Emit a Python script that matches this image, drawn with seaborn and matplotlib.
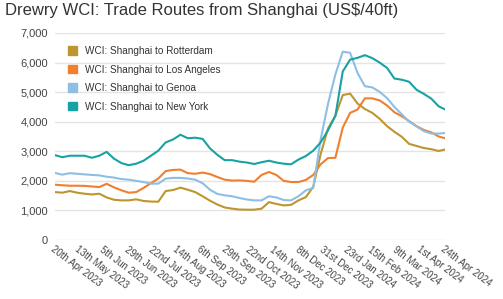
import matplotlib
matplotlib.use("Agg")
import matplotlib.pyplot as plt
from matplotlib.patches import Patch
import seaborn as sns
import pandas as pd
import numpy as np

# ---- data (weekly, US$/40ft) ----
dates = pd.date_range("2023-04-20", periods=54, freq="7D")

rotterdam = [1620, 1600, 1655, 1600, 1565, 1540, 1565, 1440, 1360, 1340,
             1340, 1375, 1320, 1300, 1295, 1655, 1690, 1770, 1700, 1620,
             1480, 1330, 1200, 1100, 1060, 1030, 1025, 1025, 1060, 1280,
             1220, 1170, 1190, 1340, 1450, 1800, 2900, 3770, 4200, 4900,
             4950, 4615, 4430, 4300, 4100, 3850, 3660, 3490, 3250, 3180,
             3110, 3070, 3010, 3070]

los_angeles = [1870, 1850, 1835, 1835, 1830, 1810, 1790, 1900, 1780, 1680,
               1600, 1620, 1760, 1920, 2080, 2330, 2370, 2380, 2260, 2240,
               2280, 2230, 2130, 2040, 2010, 2015, 2000, 1970, 2200, 2300,
               2200, 2000, 1960, 1960, 2030, 2200, 2560, 2770, 2780, 3800,
               4300, 4410, 4790, 4790, 4720, 4550, 4320, 4185, 4020, 3850,
               3720, 3640, 3500, 3430]

genoa = [2265, 2210, 2260, 2240, 2220, 2200, 2185, 2140, 2110, 2060,
         2040, 2000, 1960, 1905, 1905, 2075, 2100, 2100, 2080, 2040,
         1920, 1700, 1560, 1510, 1480, 1420, 1370, 1340, 1340, 1480,
         1440, 1350, 1340, 1480, 1680, 1760, 3400, 4600, 5600, 6370,
         6330, 5650, 5200, 5160, 5010, 4800, 4500, 4250, 4000, 3840,
         3680, 3600, 3600, 3620]

new_york = [2870, 2800, 2850, 2850, 2850, 2780, 2850, 2980, 2750, 2600,
            2530, 2580, 2680, 2850, 3020, 3300, 3400, 3560, 3440, 3460,
            3420, 3100, 2880, 2700, 2700, 2650, 2620, 2570, 2630, 2680,
            2620, 2580, 2560, 2720, 2840, 3020, 3300, 3710, 4200, 5700,
            6100, 6160, 6250, 6150, 6000, 5820, 5460, 5420, 5350, 5080,
            4940, 4780, 4520, 4400]

routes = ["WCI: Shanghai to Rotterdam", "WCI: Shanghai to Los Angeles",
          "WCI: Shanghai to Genoa", "WCI: Shanghai to New York"]
colors = ["#BE962F", "#F07F2E", "#8DBFE6", "#17A2A3"]

tick_dates = ["2023-04-20", "2023-05-13", "2023-06-05", "2023-06-29",
              "2023-07-22", "2023-08-14", "2023-09-06", "2023-09-29",
              "2023-10-22", "2023-11-14", "2023-12-08", "2023-12-31",
              "2024-01-23", "2024-02-15", "2024-03-09", "2024-04-01",
              "2024-04-24"]
tick_labels = ["20th Apr 2023", "13th May 2023", "5th Jun 2023", "29th Jun 2023",
               "22nd Jul 2023", "14th Aug 2023", "6th Sep 2023", "29th Sep 2023",
               "22nd Oct 2023", "14th Nov 2023", "8th Dec 2023", "31st Dec 2023",
               "23rd Jan 2024", "15th Feb 2024", "9th Mar 2024", "1st Apr 2024",
               "24th Apr 2024"]
y_ticks = [0, 1000, 2000, 3000, 4000, 5000, 6000, 7000]

# ---- long-form table ----
series = [rotterdam, los_angeles, genoa, new_york]
df = pd.concat([pd.DataFrame({"date": dates, "value": v, "route": r})
                for r, v in zip(routes, series)], ignore_index=True)

sns.set_theme(style="white")
plt.rcParams["font.family"] = ["Liberation Sans", "DejaVu Sans"]

fig = plt.figure(figsize=(5.03, 2.99), dpi=100)
ax = fig.add_axes([55 / 503, 1 - 240 / 299, 390 / 503, 207 / 299])

sns.lineplot(data=df, x="date", y="value", hue="route", hue_order=routes,
             palette=dict(zip(routes, colors)), linewidth=1.5, ax=ax,
             legend=False)

ax.set_ylim(0, 7000)
ax.set_xlim(pd.Timestamp("2023-04-20"), pd.Timestamp("2024-04-24"))
ax.set_yticks(y_ticks)
ax.set_yticklabels([f"{v:,}" for v in y_ticks], fontsize=8, color="#444444")
ax.set_xticks(pd.to_datetime(tick_dates))
ax.set_xticklabels(tick_labels, fontsize=7, color="#444444", rotation=-37,
                   ha="left", va="top", rotation_mode="anchor")
ax.tick_params(axis="both", length=0, pad=5)
ax.tick_params(axis="x", pad=3)
ax.grid(axis="y", color="#e4e4e4", linewidth=1)
ax.grid(axis="x", visible=False)
for s in ax.spines.values():
    s.set_visible(False)
ax.set_xlabel("")
ax.set_ylabel("")

handles = [Patch(facecolor=c, edgecolor=c) for c in colors]
ax.legend(handles, routes, loc="upper left", bbox_to_anchor=(0.033, 0.937),
          frameon=False, fontsize=7.2, handlelength=0.9, handleheight=0.9,
          handletextpad=0.8, labelspacing=0.85, borderpad=0, borderaxespad=0,
          labelcolor="#333333")

fig.text(0.01, 1 - 11 / 299, "Drewry WCI: Trade Routes from Shanghai (US$/40ft)",
         fontsize=12, color="#333333", ha="left", va="center")

fig.savefig("out.png", dpi=100)
